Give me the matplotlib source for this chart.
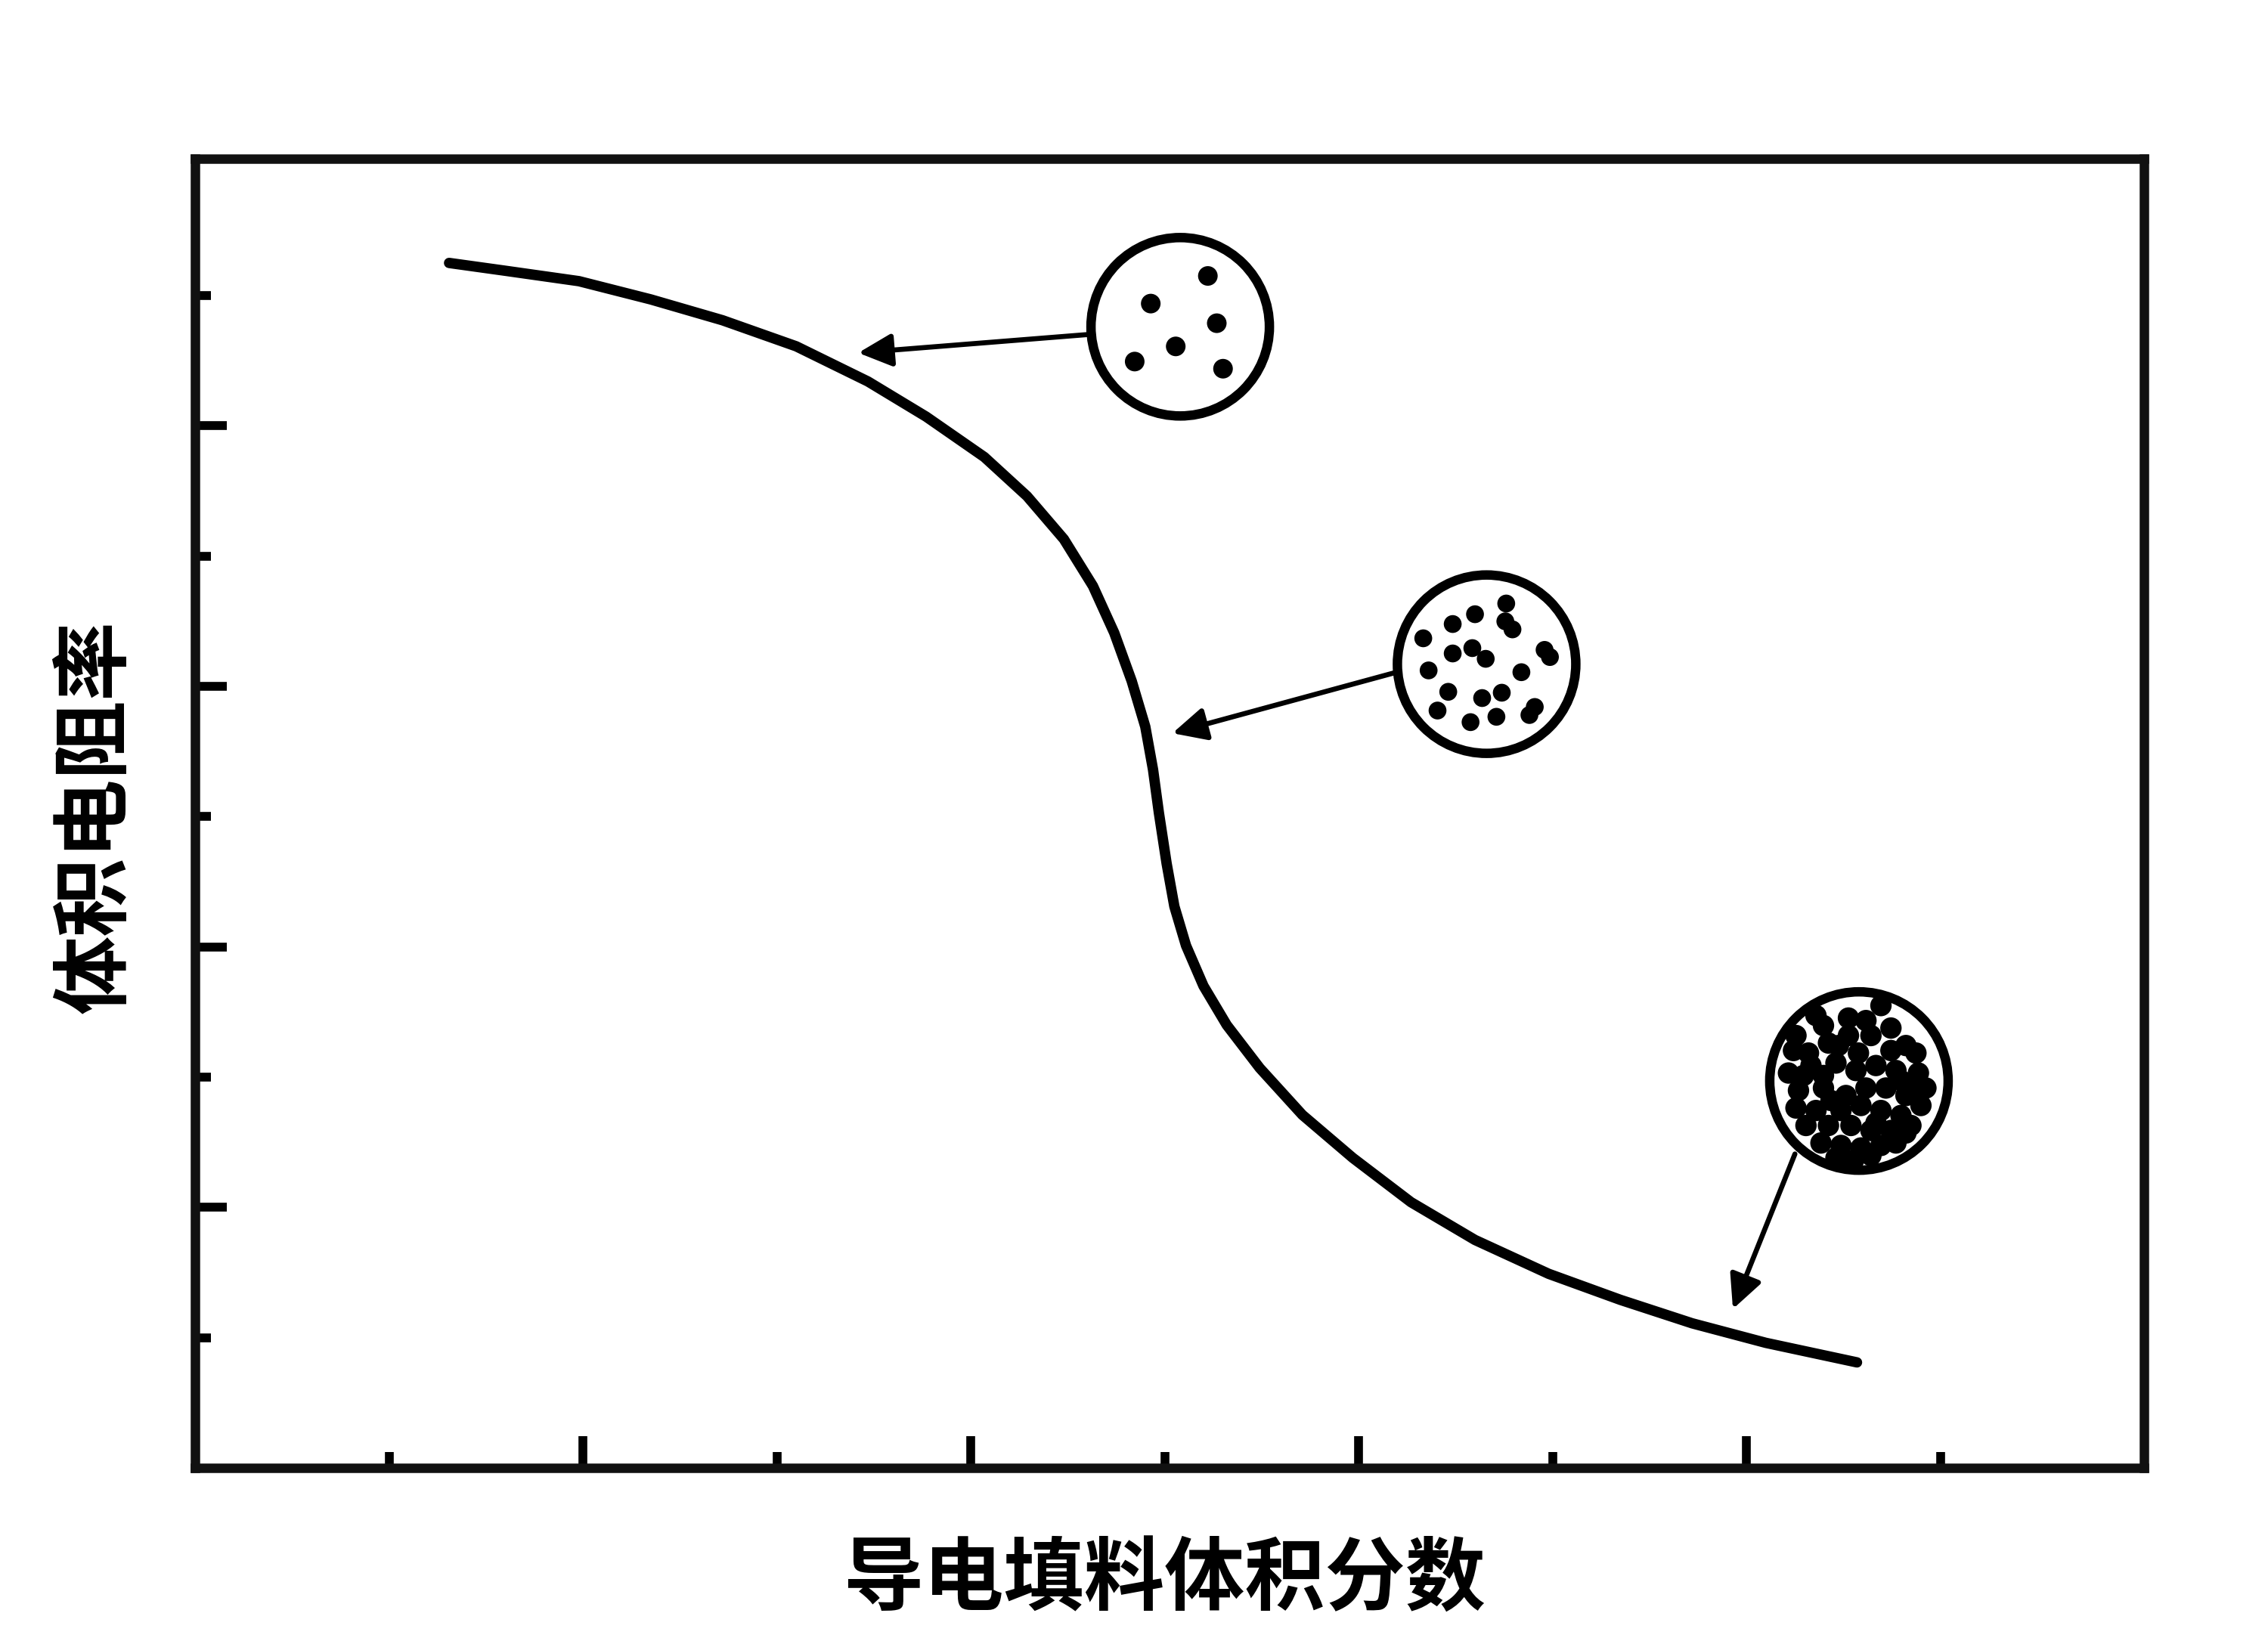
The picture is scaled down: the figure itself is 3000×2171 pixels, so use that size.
import numpy as np
import matplotlib
matplotlib.use("Agg")
import matplotlib.pyplot as plt
import matplotlib.patches as patches

plt.rcParams['font.family'] = ['Noto Sans CJK SC', 'DejaVu Sans']

# curve (schematic units, 0..10 both ways)
fraction = [1.31, 1.60, 1.98, 2.35, 2.72, 3.10, 3.47, 3.77, 4.07, 4.29, 4.48,
            4.63, 4.74, 4.83, 4.90, 4.94, 4.97, 5.01, 5.05, 5.11, 5.20, 5.32,
            5.49, 5.71, 5.97, 6.27, 6.60, 6.98, 7.35, 7.72, 8.10, 8.57]
resistivity = [9.25, 9.19, 9.11, 8.97, 8.81, 8.61, 8.34, 8.07, 7.76, 7.46, 7.13,
               6.77, 6.41, 6.04, 5.69, 5.36, 5.03, 4.64, 4.31, 4.01, 3.70, 3.40,
               3.07, 2.71, 2.38, 2.04, 1.75, 1.49, 1.29, 1.11, 0.96, 0.81]

xlabel = "导电填料体积分数"
ylabel = "体积电阻率"
major_ticks = [2, 4, 6, 8]
minor_ticks = [1, 3, 5, 7, 9]

# inset circles: centre (data), arrow start, arrow tip
circle_centres = [(5.08, 8.76), (6.66, 6.17), (8.58, 2.97)]
arrow_starts = [(4.60, 8.70), (6.20, 6.11), (8.25, 2.41)]
arrow_tips = [(3.42, 8.56), (5.04, 5.64), (7.93, 1.22)]
circle_radius_px = 118

# particle positions inside each circle (unit circle coords)
dots_sparse = [(0.31, 0.57), (-0.33, 0.26), (0.41, 0.04), (-0.05, -0.22),
               (-0.51, -0.39), (0.48, -0.47)]
dots_medium = [(0.22, 0.68), (-0.13, 0.56), (-0.38, 0.45), (0.21, 0.48), (0.29, 0.39),
               (-0.71, 0.29), (-0.38, 0.12), (-0.16, 0.18), (-0.01, 0.06), (0.65, 0.16),
               (0.71, 0.08), (-0.65, -0.07), (0.39, -0.09), (-0.43, -0.31), (-0.05, -0.38),
               (0.17, -0.32), (-0.55, -0.52), (-0.18, -0.65), (0.11, -0.59), (0.54, -0.48),
               (0.48, -0.57)]
# dense one read in sketch pixels, centre (472, 442), radius 357
dense_px = [(220, 260), (210, 320), (330, 220), (350, 290), (430, 190), (430, 260),
            (520, 260), (600, 230), (660, 300), (700, 330), (190, 410), (280, 380),
            (380, 370), (460, 400), (540, 380), (620, 400), (710, 410), (740, 470),
            (230, 480), (330, 470), (420, 500), (500, 470), (580, 470), (660, 500),
            (720, 540), (220, 550), (300, 560), (400, 560), (480, 540), (560, 560),
            (640, 580), (260, 620), (350, 620), (440, 620), (520, 640), (600, 640),
            (680, 620), (320, 690), (400, 700), (480, 710), (560, 700), (620, 690),
            (380, 750), (520, 740), (300, 180), (560, 140), (470, 330), (390, 300),
            (250, 420), (640, 440), (700, 470), (360, 520), (540, 610), (450, 760),
            (600, 320), (500, 200), (270, 330), (660, 650), (330, 420)]
dense = (np.array(dense_px, dtype=float) - [472, 442]) / 357.0
dense[:, 1] *= -1
dot_sets = [dots_sparse, dots_medium, dense]
dot_radius = [0.11, 0.1, 0.12]

W, H = 3000, 2171
fig = plt.figure(figsize=(W / 300, H / 300), dpi=300)
ax_l, ax_b, ax_r, ax_t = 258 / W, 1 - 1942 / H, 2836 / W, 1 - 210 / H
ax = fig.add_axes([ax_l, ax_b, ax_r - ax_l, ax_t - ax_b])

ax.plot(fraction, resistivity, color='black', lw=3.3, solid_capstyle='round',
        solid_joinstyle='round')

xmax, ymax = 10.05, 10.05
ax.set_xlim(0, xmax)
ax.set_ylim(0, ymax)
ax.set_xticks(major_ticks)
ax.set_xticks(minor_ticks, minor=True)
ax.set_yticks(major_ticks)
ax.set_yticks(minor_ticks, minor=True)
ax.tick_params(which='both', direction='in', top=False, right=False,
               labelbottom=False, labelleft=False, color='black')
ax.tick_params(which='major', length=10, width=2.8)
ax.tick_params(which='minor', length=5, width=2.8)
for s in ax.spines.values():
    s.set_linewidth(3.0)
    s.set_color('#111111')

# pixel size of one data unit, for round circles
px_x = (ax_r - ax_l) * W / xmax
px_y = (ax_t - ax_b) * H / ymax
rx = circle_radius_px / px_x
ry = circle_radius_px / px_y

for (cx, cy), dots, dr in zip(circle_centres, dot_sets, dot_radius):
    ins = ax.inset_axes([cx - rx * 1.1, cy - ry * 1.1, 2.2 * rx, 2.2 * ry],
                        transform=ax.transData)
    ins.set_xlim(-1.1, 1.1)
    ins.set_ylim(-1.1, 1.1)
    ins.set_aspect('equal')
    ins.axis('off')
    ins.patch.set_alpha(0)
    ring = patches.Circle((0, 0), 1.0, facecolor='white', edgecolor='none')
    ins.add_patch(ring)
    for dx, dy in dots:
        d = ins.add_patch(patches.Circle((dx, dy), dr, color='black', lw=0))
        d.set_clip_path(ring)
    ins.add_patch(patches.Circle((0, 0), 1.0, facecolor='none',
                                 edgecolor='black', lw=3.0))

for start, tip in zip(arrow_starts, arrow_tips):
    ax.annotate('', xy=tip, xytext=start,
                arrowprops=dict(arrowstyle='-|>,head_length=0.45,head_width=0.22',
                                color='black', lw=1.6, mutation_scale=20,
                                shrinkA=0, shrinkB=0))

fig.text(1540 / W, 1 - 2091 / H, xlabel, ha='center', va='center',
         fontsize=25.5, fontweight='bold')
fig.text(127 / W, 1 - 1081 / H, ylabel, ha='center', va='center',
         rotation=90, fontsize=25, fontweight='bold')

fig.savefig("out.png", dpi=300, facecolor='white')
